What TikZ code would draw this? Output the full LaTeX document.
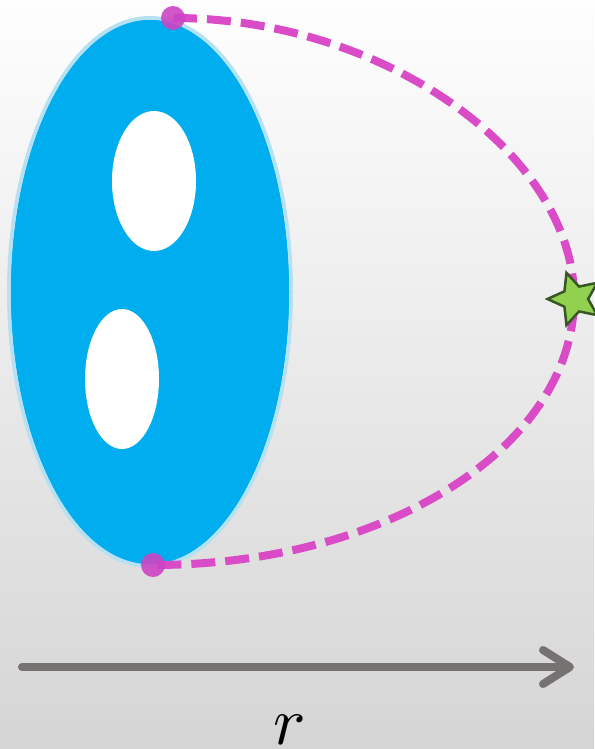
\documentclass[tikz,border=0pt]{standalone}
\usetikzlibrary{shapes.geometric,arrows.meta}
\definecolor{bgtop}{HTML}{FEFEFE}
\definecolor{bgbot}{HTML}{D5D5D5}
\definecolor{blobblue}{HTML}{00AEEF}
\definecolor{blobedge}{HTML}{B5E1F2}
\definecolor{pathmag}{HTML}{DA4BC8}
\definecolor{dotmag}{HTML}{CC44C4}
\definecolor{starfill}{HTML}{92D050}
\definecolor{staredge}{HTML}{385723}
\definecolor{arrowgray}{HTML}{767272}
\tikzset{
  hole/.style={fill=white, draw=none},
  enddot/.style={circle, fill=dotmag, fill opacity=0.9, minimum size=24pt, inner sep=0pt},
  pathline/.style={pathmag, line width=8pt, dash pattern=on 24pt off 10pt},
  starmark/.style={star, star points=5, star point ratio=2.1, minimum size=55pt, inner sep=0pt,
    fill=starfill, draw=staredge, line width=2.5pt, shape border rotate=90},
  axisline/.style={arrowgray, line width=8pt, line cap=round,
    -{Straight Barb[length=27pt,width=34pt,line cap=round,line join=round]}}
}
\begin{document}
\begin{tikzpicture}[x=1pt,y=-1pt]
\useasboundingbox (0,0) rectangle (594,749);
\shade[top color=bgtop, bottom color=bgbot] (0,0) rectangle (594,749);
% blob
\draw[blobedge, line width=4pt, fill=blobblue] (150,292) ellipse [x radius=141, y radius=274];
\fill[blobblue] (150,292) ellipse [x radius=139, y radius=272];
\fill[hole] (154,181) ellipse [x radius=42, y radius=70];
\fill[hole] (122,379) ellipse [x radius=37, y radius=70];
% path
\coordinate (A) at (173,18);
\coordinate (S) at (574,298);
\coordinate (B) at (153,565);
\draw[pathline] (A) .. controls (385,18) and (574,155) .. (S)
                    .. controls (574,446) and (388,565) .. (B);
\node[enddot] (dA) at (A) {};
\node[enddot] (dB) at (B) {};
\node[starmark] (st) at (575,299) {};
% axis
\coordinate (L) at (22,667);
\coordinate (R) at (574,667);
\draw[axisline] (L) -- (R);
\node[scale=6.8] (lab) at (290,730) {$r$};
\end{tikzpicture}
\end{document}
